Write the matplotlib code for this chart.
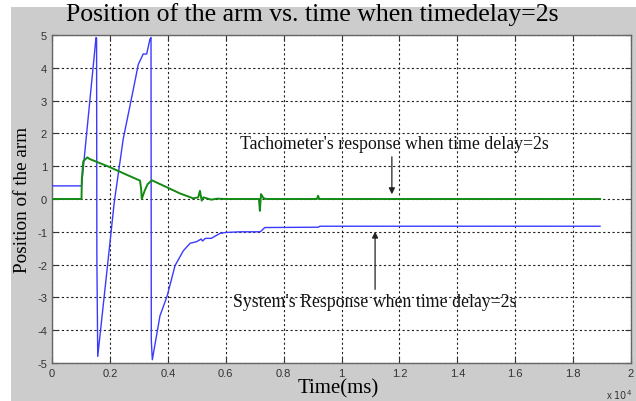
import matplotlib
matplotlib.use("Agg")
import matplotlib.pyplot as plt
from matplotlib.patches import Rectangle

plt.rcParams['axes.unicode_minus'] = False

# Time axis in ms; system (blue) and tachometer (green) responses
sys_t = [0, 1020, 1520, 1540, 1550, 1580, 2000, 2150, 2460, 2810, 2980, 3150, 3270,
         3385, 3420, 3430, 3465, 3730, 3980, 4250, 4535, 4770, 5000, 5150, 5200,
         5300, 5500, 5800, 6000, 6500, 7180, 7220, 7350, 9200, 9250, 18930]
sys_v = [0.4, 0.4, 4.92, 4.9, -1.8, -4.8, -1.35, -0.1, 1.83, 3.35, 4.1, 4.42, 4.42,
         4.88, 4.92, -4.3, -4.9, -3.56, -2.95, -2.03, -1.58, -1.35, -1.3, -1.22, -1.28,
         -1.2, -1.2, -1.05, -1.02, -1.0, -1.0, -0.98, -0.87, -0.86, -0.83, -0.83]

tach_t = [0, 1020, 1030, 1080, 1220, 1300, 2000, 2500, 3040, 3080, 3100, 3200, 3300,
          3450, 3960, 4420, 4880, 5050, 5110, 5170, 5230, 5350, 5500, 5700, 6000,
          7150, 7180, 7220, 7300, 7400, 7600, 9150, 9190, 9230, 18930]
tach_v = [0, 0, 0.6, 1.15, 1.27, 1.22, 0.97, 0.77, 0.56, 0.3, 0.0, 0.25, 0.45,
          0.57, 0.36, 0.17, 0.02, 0.05, 0.25, -0.05, 0.05, 0.02, -0.02, 0.01, 0.0,
          0.0, -0.36, 0.15, 0.03, 0.0, 0.0, 0.0, 0.1, 0.0, 0.0]

x_ticks = [0, 2000, 4000, 6000, 8000, 10000, 12000, 14000, 16000, 18000, 20000]
x_tick_labels = ['0', '0.2', '0.4', '0.6', '0.8', '1', '1.2', '1.4', '1.6', '1.8', '2']
y_ticks = [-5, -4, -3, -2, -1, 0, 1, 2, 3, 4, 5]

W, H = 636, 402
fig = plt.figure(figsize=(W / 100, H / 100), dpi=100, facecolor='white')
fig.patches.append(Rectangle((11 / W, 0), (W - 11) / W, (H - 8) / H,
                             transform=fig.transFigure, facecolor='#cccccc',
                             edgecolor='none', zorder=-10))

ax = fig.add_axes([52 / W, 1 - 364 / H, (631 - 52) / W, (364 - 36) / H])
ax.set_facecolor('white')

ax.plot(sys_t, sys_v, color='#3a3aff', lw=1.0, zorder=3)
ax.plot(tach_t, tach_v, color='#138a13', lw=1.4, zorder=4)

ax.set_xlim(0, 20000)
ax.set_ylim(-5, 5)
ax.set_xticks(x_ticks)
ax.set_xticklabels(x_tick_labels)
ax.set_yticks(y_ticks)
ax.tick_params(direction='in', length=4, color='#333333', labelsize=8,
               labelcolor='#333333', top=True, right=True)
for lab in ax.get_xticklabels() + ax.get_yticklabels():
    lab.set_family('Liberation Sans')
for s in ax.spines.values():
    s.set_color('#666666')
    s.set_linewidth(1.0)
ax.grid(True, color='#222222', linestyle=(0, (2, 2.2)), linewidth=0.8)

serif = 'Liberation Serif'
fig.text(312 / W, 1 - 15 / H, 'Position of the arm vs. time when timedelay=2s',
         ha='center', va='center', family=serif, fontsize=18.5)
fig.text(23 / W, 1 - 200 / H, 'Position of the arm', rotation=90,
         ha='center', va='center', family=serif, fontsize=13.8)
fig.text(338 / W, 1 - 389 / H, 'Time(ms)', ha='center', va='center',
         family=serif, fontsize=15)
fig.text(606 / W, 1 - 395 / H, r'x $10^4$', ha='left', va='center',
         family='Liberation Sans', fontsize=7, color='#333333')

ax.text(6490, 1.68, "Tachometer's response when time delay=2s", family=serif,
        fontsize=12.8, ha='left', va='center', color='#111111', zorder=6)
ax.annotate('', xy=(11740, 0.06), xytext=(11740, 1.37),
            arrowprops=dict(arrowstyle='-|>', color='#222222', lw=0.9,
                            mutation_scale=9), zorder=6)
ax.text(6250, -3.14, "System's Response when time delay=2s", family=serif,
        fontsize=12.8, ha='left', va='center', color='#111111', zorder=6)
ax.annotate('', xy=(11160, -0.91), xytext=(11160, -2.84),
            arrowprops=dict(arrowstyle='-|>', color='#222222', lw=0.9,
                            mutation_scale=9), zorder=6)

fig.savefig('out.png', dpi=100, facecolor='white')
